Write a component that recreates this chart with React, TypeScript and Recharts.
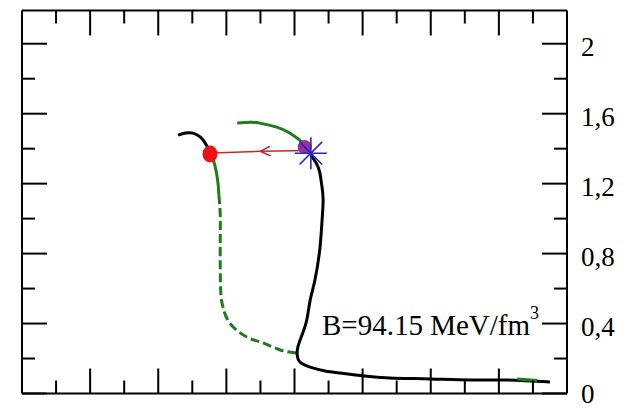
import { ComposedChart, Line, Scatter, XAxis, YAxis } from 'recharts';

// radius (km) ticks on top/bottom, mass ticks on left/right
const xTicks = [8.5, 9, 9.5, 10, 10.5, 11, 11.5, 12, 12.5, 13, 13.5, 14, 14.5, 15, 15.5];
const yTicks = [0, 0.2, 0.4, 0.6, 0.8, 1.0, 1.2, 1.4, 1.6, 1.8, 2.0];

const blackUpper = [
  { r: 10.29, m: 1.477 }, { r: 10.4, m: 1.489 }, { r: 10.51, m: 1.489 }, { r: 10.62, m: 1.466 },
  { r: 10.69, m: 1.431 }, { r: 10.75, m: 1.391 }, { r: 10.78, m: 1.37 },
];

const greenSolidLower = [
  { r: 10.78, m: 1.37 }, { r: 10.83, m: 1.306 }, { r: 10.86, m: 1.249 }, { r: 10.88, m: 1.191 },
  { r: 10.89, m: 1.134 },
];

const greenDashed = [
  { r: 10.89, m: 1.134 }, { r: 10.91, m: 1.02 }, { r: 10.91, m: 0.877 }, { r: 10.91, m: 0.706 },
  { r: 10.92, m: 0.563 }, { r: 10.95, m: 0.494 }, { r: 11.05, m: 0.403 }, { r: 11.3, m: 0.323 },
  { r: 11.54, m: 0.289 }, { r: 11.79, m: 0.249 }, { r: 12.04, m: 0.231 },
];

const greenUpper = [
  { r: 11.16, m: 1.546 }, { r: 11.35, m: 1.551 }, { r: 11.49, m: 1.546 }, { r: 11.74, m: 1.523 },
  { r: 11.93, m: 1.489 }, { r: 12.11, m: 1.437 }, { r: 12.21, m: 1.391 },
];

const blackMain = [
  { r: 12.24, m: 1.363 }, { r: 12.32, m: 1.317 }, { r: 12.37, m: 1.266 }, { r: 12.4, m: 1.191 },
  { r: 12.42, m: 1.106 }, { r: 12.4, m: 0.963 }, { r: 12.37, m: 0.82 }, { r: 12.3, m: 0.649 },
  { r: 12.23, m: 0.534 }, { r: 12.18, m: 0.42 }, { r: 12.11, m: 0.334 }, { r: 12.05, m: 0.266 },
  { r: 12.04, m: 0.22 }, { r: 12.08, m: 0.18 }, { r: 12.23, m: 0.151 }, { r: 12.45, m: 0.129 },
  { r: 12.67, m: 0.117 }, { r: 13.03, m: 0.1 }, { r: 13.4, m: 0.089 }, { r: 13.99, m: 0.083 },
  { r: 14.58, m: 0.077 }, { r: 15.12, m: 0.077 }, { r: 15.75, m: 0.066 },
];

const greenTail = [{ r: 15.27, m: 0.083 }, { r: 15.56, m: 0.074 }];

const arrowPath = [{ r: 12.2, m: 1.39 }, { r: 11.5, m: 1.385 }, { r: 10.8, m: 1.375 }];

const redDot = [{ r: 10.76, m: 1.369 }];
const purpleDot = [{ r: 12.15, m: 1.409 }];
const starPoint = [{ r: 12.24, m: 1.374 }];

const FONT = "'Liberation Serif', 'Times New Roman', serif";
const GREEN = '#1e7b1e';
const frame = { stroke: '#000', strokeWidth: 2 };

const fmtY = (v: number) => String(Math.round(v * 10) / 10).replace('.', ',');
const isMajorX = (v: number) => Number.isInteger(v);
const isMajorY = (v: number) => Math.round(v * 10) % 4 === 0;

function XTick(props: any) {
  const { x, y, payload, side } = props;
  const len = isMajorX(payload.value) ? 25 : 13;
  const dir = side === 'top' ? 1 : -1;
  return <line x1={x} x2={x} y1={y} y2={y + dir * len} stroke="#000" strokeWidth={2} />;
}

function YTick(props: any) {
  const { x, y, payload, side } = props;
  const major = isMajorY(payload.value);
  const len = major ? 25 : 13;
  const dir = side === 'left' ? 1 : -1;
  return (
    <g>
      <line x1={x} x2={x + dir * len} y1={y} y2={y} stroke="#000" strokeWidth={2} />
      {side === 'right' && major && (
        <text x={x + 14} y={Math.min(y + 12, 403)} fontSize={27} fontFamily={FONT} fill="#000">
          {fmtY(payload.value)}
        </text>
      )}
    </g>
  );
}

const Star = (p: any) => (
  <g stroke="#2424c8" strokeWidth={1.6}>
    {[0, 45, 90, 135].map((a) => {
      const dx = 16 * Math.cos((a * Math.PI) / 180);
      const dy = 16 * Math.sin((a * Math.PI) / 180);
      return <line key={a} x1={p.cx - dx} y1={p.cy - dy} x2={p.cx + dx} y2={p.cy + dy} />;
    })}
  </g>
);

export default function App() {
  return (
    <div style={{ position: 'absolute', left: 0, top: 0 }}>
      <ComposedChart width={626} height={409} margin={{ top: 9.5, right: 0, bottom: 14.5, left: 21 }}>
        <defs>
          <marker id="arrowL" viewBox="0 0 10 10" refX="10" refY="5" markerWidth="10" markerHeight="10"
            markerUnits="userSpaceOnUse" orient="auto">
            <path d="M0,0 L10,5 L0,10" fill="none" stroke="#c62828" strokeWidth={1.5} />
          </marker>
        </defs>
        <XAxis xAxisId="b" type="number" dataKey="r" domain={[8, 16]} allowDataOverflow ticks={xTicks}
          interval={0} orientation="bottom" height={1} tickSize={0} tickMargin={0} tickLine={false}
          axisLine={frame} tick={(p: any) => <XTick {...p} side="bottom" />} />
        <XAxis xAxisId="t" type="number" dataKey="r" domain={[8, 16]} allowDataOverflow ticks={xTicks}
          interval={0} orientation="top" height={1} tickSize={0} tickMargin={0} tickLine={false}
          axisLine={frame} tick={(p: any) => <XTick {...p} side="top" />} />
        <YAxis yAxisId="r" type="number" domain={[0, 2.19]} allowDataOverflow ticks={yTicks}
          interval={0} orientation="right" width={59} tickSize={0} tickMargin={0} tickLine={false}
          axisLine={frame} tick={(p: any) => <YTick {...p} side="right" />} />
        <YAxis yAxisId="l" type="number" domain={[0, 2.19]} allowDataOverflow ticks={yTicks}
          interval={0} orientation="left" width={1} tickSize={0} tickMargin={0} tickLine={false}
          axisLine={frame} tick={(p: any) => <YTick {...p} side="left" />} />

        <Line xAxisId="b" yAxisId="r" data={greenUpper} dataKey="m" type="natural" stroke={GREEN}
          strokeWidth={3} dot={false} activeDot={false} isAnimationActive={false} />
        <Line xAxisId="b" yAxisId="r" data={greenSolidLower} dataKey="m" type="natural" stroke={GREEN}
          strokeWidth={3} dot={false} activeDot={false} isAnimationActive={false} />
        <Line xAxisId="b" yAxisId="r" data={greenDashed} dataKey="m" type="natural" stroke={GREEN}
          strokeWidth={3} strokeDasharray="9 4" dot={false} activeDot={false} isAnimationActive={false} />
        <Line xAxisId="b" yAxisId="r" data={blackUpper} dataKey="m" type="natural" stroke="#000"
          strokeWidth={3} dot={false} activeDot={false} isAnimationActive={false} />
        <Line xAxisId="b" yAxisId="r" data={blackMain} dataKey="m" type="natural" stroke="#000"
          strokeWidth={3} dot={false} activeDot={false} isAnimationActive={false} />
        <Line xAxisId="b" yAxisId="r" data={greenTail} dataKey="m" type="linear" stroke={GREEN}
          strokeWidth={3} dot={false} activeDot={false} isAnimationActive={false} />
        <Line xAxisId="b" yAxisId="r" data={arrowPath} dataKey="m" type="linear" stroke="#c62828"
          strokeWidth={1.5} markerMid="url(#arrowL)" dot={false} activeDot={false} isAnimationActive={false} />

        <Scatter xAxisId="b" yAxisId="r" data={redDot} dataKey="m" isAnimationActive={false}
          shape={(p: any) => <ellipse cx={p.cx} cy={p.cy} rx={7.5} ry={8.5} fill="#ee1111" />} />
        <Scatter xAxisId="b" yAxisId="r" data={purpleDot} dataKey="m" isAnimationActive={false}
          shape={(p: any) => <circle cx={p.cx} cy={p.cy} r={7} fill="#9b2f95" />} />
        <Scatter xAxisId="b" yAxisId="r" data={starPoint} dataKey="m" isAnimationActive={false}
          shape={Star} />

        <text x={322} y={335} fontSize={29} fontFamily={FONT} fill="#000">
          B=94.15 MeV/fm
          <tspan fontSize={18} dy={-16}>3</tspan>
        </text>
      </ComposedChart>
    </div>
  );
}
